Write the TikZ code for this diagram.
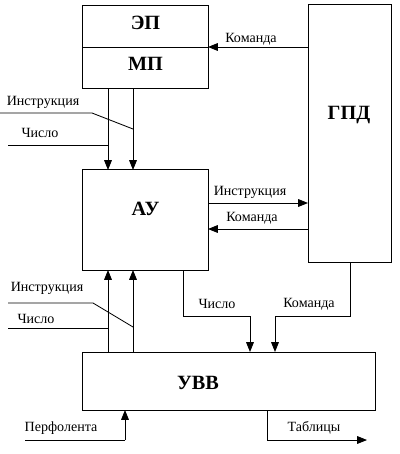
\documentclass[tikz,border=0pt]{standalone}
\usepackage{fontspec}
\setmainfont{Liberation Serif}
\usetikzlibrary{arrows.meta}

\tikzset{
  blok/.style={draw, line width=0.7pt, inner sep=0pt, outer sep=0pt},
  imja/.style={font=\bfseries\Large},
  podpis/.style={font=\normalsize, inner sep=1pt},
  svjaz/.style={line width=0.6pt},
  strelka/.style={svjaz, -{Triangle[length=7pt, width=5.5pt]}},
}

\begin{document}
\begin{tikzpicture}[x=0.025cm, y=-0.025cm]
\useasboundingbox (0,0) rectangle (400,454);

% ========= Блоки =========
\node[blok, minimum width=3.125cm, minimum height=1.05cm] (ep) at (145.5,26) {};
\node[blok, minimum width=3.125cm, minimum height=1.025cm] (mp) at (145.5,67.5) {};
\node[blok, minimum width=2.075cm, minimum height=6.425cm] (gpd) at (349.5,133.5) {};
\node[blok, minimum width=3.125cm, minimum height=2.5cm] (au) at (145.5,220) {};
\node[blok, minimum width=7.3cm, minimum height=1.45cm] (uvv) at (229,381) {};

\node[imja] (eplbl) at (145.5,23) {ЭП};
\node[imja] (mplbl) at (145.5,64) {МП};
\node[imja] (gpdlbl) at (349,115) {ГПД};
\node[imja] (aulbl) at (145.5,209) {АУ};
\node[imja] (uvvlbl) at (198,383) {УВВ};

% ========= Вертикальные шины =========
\coordinate (x1) at (108,0);
\coordinate (x2) at (133,0);
\draw[strelka, {Triangle[length=7pt, width=5.5pt]}-] (x1 |- au.north) -- (x1 |- mp.south);
\draw[strelka, {Triangle[length=7pt, width=5.5pt]}-] (x2 |- au.north) -- (x2 |- mp.south);
\draw[strelka] (x1 |- uvv.north) -- (x1 |- au.south);
\draw[strelka] (x2 |- uvv.north) -- (x2 |- au.south);

% ========= Входы слева (верх) =========
\coordinate (i1) at (0,113);
\coordinate (i1k) at (92,113);
\coordinate (i1e) at (133,129);
\coordinate (c1) at (8,145);
\coordinate (c1e) at (108,145);
\draw[svjaz] (i1) -- (i1k) -- (i1e);
\draw[svjaz] (c1) -- (c1e);
\node[podpis] (instr1) at (43,102) {Инструкция};
\node[podpis] (chislo1) at (40,133) {Число};

% ========= Входы слева (низ) =========
\coordinate (i2) at (8,303);
\coordinate (i2k) at (93,303);
\coordinate (i2e) at (133,327);
\coordinate (c2) at (8,328);
\coordinate (c2e) at (108,328);
\draw[svjaz] (i2) -- (i2k) -- (i2e);
\draw[svjaz] (c2) -- (c2e);
\node[podpis] (instr2) at (47,288) {Инструкция};
\node[podpis] (chislo2) at (36,319) {Число};

% ========= Связи с ГПД =========
\draw[strelka] (gpd.west |- mp.north) -- (mp.north east);
\node[podpis] (kom1) at (251,39) {Команда};
\coordinate (y1) at (0,203);
\coordinate (y2) at (0,229);
\draw[strelka] (au.east |- y1) -- (gpd.west |- y1);
\draw[strelka] (gpd.west |- y2) -- (au.east |- y2);
\node[podpis] (instr3) at (250,192) {Инструкция};
\node[podpis] (kom2) at (252,218) {Команда};

% ========= Связи с УВВ =========
\coordinate (chv) at (183,316);
\coordinate (chu) at (250,316);
\draw[svjaz] (chv |- au.south) -- (chv) -- (chu);
\draw[strelka] (chu) -- (chu |- uvv.north);
\node[podpis] (chislo3) at (217,304) {Число};
\coordinate (kv) at (350,316);
\coordinate (ku) at (275,316);
\draw[svjaz] (kv |- gpd.south) -- (kv) -- (ku);
\draw[strelka] (ku) -- (ku |- uvv.north);
\node[podpis] (kom3) at (309,304) {Команда};

% ========= Вход и выход УВВ =========
\coordinate (pf) at (25,440);
\coordinate (pfu) at (125,440);
\draw[svjaz] (pf) -- (pfu);
\draw[strelka] (pfu) -- (pfu |- uvv.south);
\node[podpis] (perf) at (61,428) {Перфолента};
\coordinate (tb) at (267,440);
\coordinate (tbe) at (367,440);
\draw[strelka] (tb |- uvv.south) -- (tb) -- (tbe);
\node[podpis] (tabl) at (314,428) {Таблицы};
\end{tikzpicture}
\end{document}
